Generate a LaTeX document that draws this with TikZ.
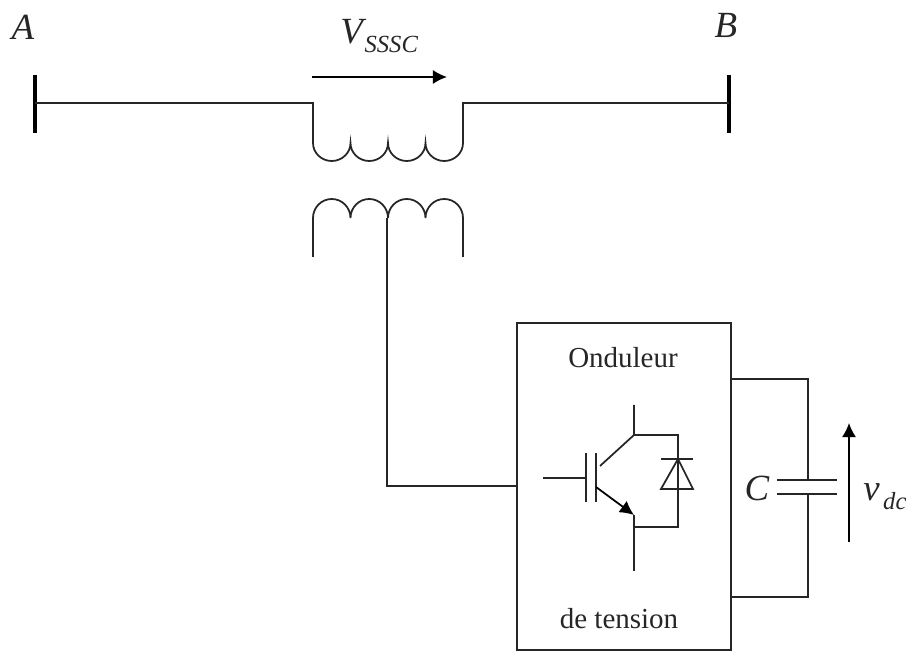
\documentclass[tikz,border=0pt]{standalone}
\usepackage{fontspec}
\setmainfont{Liberation Serif}
\usetikzlibrary{arrows.meta}

\tikzset{
    wire/.style={line width=1pt, color=black!85},
    bus/.style={line width=2.8pt, color=black},
    sense/.style={line width=1pt, color=black, -{Latex[length=8pt,width=8pt]}},
    biglabel/.style={font=\fontsize{21}{24}\selectfont\itshape, inner sep=0pt, color=black!85},
    boxlabel/.style={font=\fontsize{16.5}{19}\selectfont, inner sep=0pt, color=black!85}
}

\begin{document}
\begin{tikzpicture}[x=0.02cm,y=-0.02cm]
    \useasboundingbox (0,0) rectangle (907,651);

    % line and bars
    \coordinate (A1) at (35,75);
    \coordinate (A2) at (35,133);
    \coordinate (AM) at (35,103);
    \coordinate (B1) at (729,75);
    \coordinate (B2) at (729,133);
    \coordinate (BM) at (729,103);
    \coordinate (P1) at (313,103);
    \coordinate (P2) at (463,103);
    \coordinate (P3) at (313,143);
    \coordinate (P4) at (463,143);

    \draw[bus] (A1) -- (A2);
    \draw[bus] (B1) -- (B2);
    \draw[wire] (AM) -- (P1) -- (P3);
    \draw[wire] (BM) -- (P2) -- (P4);

    % primary winding
    \draw[wire] (P3) arc[start angle=180, end angle=0, x radius=18.75, y radius=18]
        arc[start angle=180, end angle=0, x radius=18.75, y radius=18]
        arc[start angle=180, end angle=0, x radius=18.75, y radius=18]
        arc[start angle=180, end angle=0, x radius=18.75, y radius=18];

    % secondary winding
    \coordinate (S1) at (313,257);
    \coordinate (S2) at (313,218);
    \coordinate (S3) at (463,218);
    \coordinate (S4) at (463,257);
    \coordinate (SM) at (387,218);
    \coordinate (SB) at (387,486);

    \draw[wire] (S1) -- (S2) arc[start angle=180, end angle=360, x radius=18.75, y radius=19]
        arc[start angle=180, end angle=360, x radius=18.75, y radius=19]
        arc[start angle=180, end angle=360, x radius=18.75, y radius=19]
        arc[start angle=180, end angle=360, x radius=18.75, y radius=19] -- (S4);

    % voltage source box
    \coordinate (O1) at (517,323);
    \coordinate (O2) at (731,650);
    \coordinate (OL) at (517,486);
    \draw[wire] (O1) rectangle (O2);
    \draw[wire] (SM) -- (SB) -- (OL);

    % IGBT
    \coordinate (G0) at (543,478);
    \coordinate (G1) at (585,478);
    \coordinate (G2) at (586,453);
    \coordinate (G3) at (586,502);
    \coordinate (G4) at (596,453);
    \coordinate (G5) at (596,502);
    \coordinate (T1) at (634,405);
    \coordinate (T2) at (634,435);
    \coordinate (T3) at (600,466);
    \coordinate (T4) at (596,487);
    \coordinate (T5) at (634,515);
    \coordinate (T6) at (634,571);
    \coordinate (T7) at (634,527);
    \coordinate (D1) at (678,435);
    \coordinate (D2) at (678,527);

    \draw[wire] (G0) -- (G1);
    \draw[wire] (G2) -- (G3);
    \draw[wire] (G4) -- (G5);
    \draw[wire] (T1) -- (T2) -- (T3);
    \draw[sense] (T4) -- (T5);
    \draw[wire] (T5) -- (T6);
    \draw[wire] (T2) -- (D1) -- (D2) -- (T7);

    % diode
    \coordinate (K1) at (661,459);
    \coordinate (K2) at (693,459);
    \coordinate (K3) at (678,459);
    \coordinate (K4) at (661,489);
    \coordinate (K5) at (693,489);
    \draw[wire] (K1) -- (K2);
    \draw[wire] (K3) -- (K4) -- (K5) -- cycle;

    % capacitor
    \coordinate (C1) at (731,379);
    \coordinate (C2) at (808,379);
    \coordinate (C3) at (808,480);
    \coordinate (C4) at (808,494);
    \coordinate (C5) at (808,597);
    \coordinate (C6) at (731,597);
    \coordinate (C7) at (777,480);
    \coordinate (C8) at (837,480);
    \coordinate (C9) at (777,494);
    \coordinate (C10) at (837,494);

    \draw[wire] (C1) -- (C2) -- (C3);
    \draw[wire] (C4) -- (C5) -- (C6);
    \draw[wire] (C7) -- (C8);
    \draw[wire] (C9) -- (C10);

    % arrows
    \coordinate (VA) at (312,77);
    \coordinate (VB) at (447,77);
    \coordinate (DA) at (849,542);
    \coordinate (DB) at (849,423);
    \draw[sense] (VA) -- (VB);
    \draw[sense] (DA) -- (DB);

    \node[biglabel] (lblA) at (23,27) {A};
    \node[biglabel] (lblB) at (726,25) {B};
    \node[biglabel, anchor=west] (lblV) at (340,36) {V\hspace{1pt}\raisebox{-5pt}{\fontsize{14}{16}\selectfont SSSC}};
    \node[biglabel] (lblC) at (757,488) {C};
    \node[biglabel, anchor=west] (lblD) at (863,497) {v\hspace{2pt}\raisebox{-5pt}{\fontsize{14}{16}\selectfont dc}};
    \node[boxlabel] (lblO) at (623,358) {Onduleur};
    \node[boxlabel] (lblT) at (619,619) {de tension};
\end{tikzpicture}
\end{document}
